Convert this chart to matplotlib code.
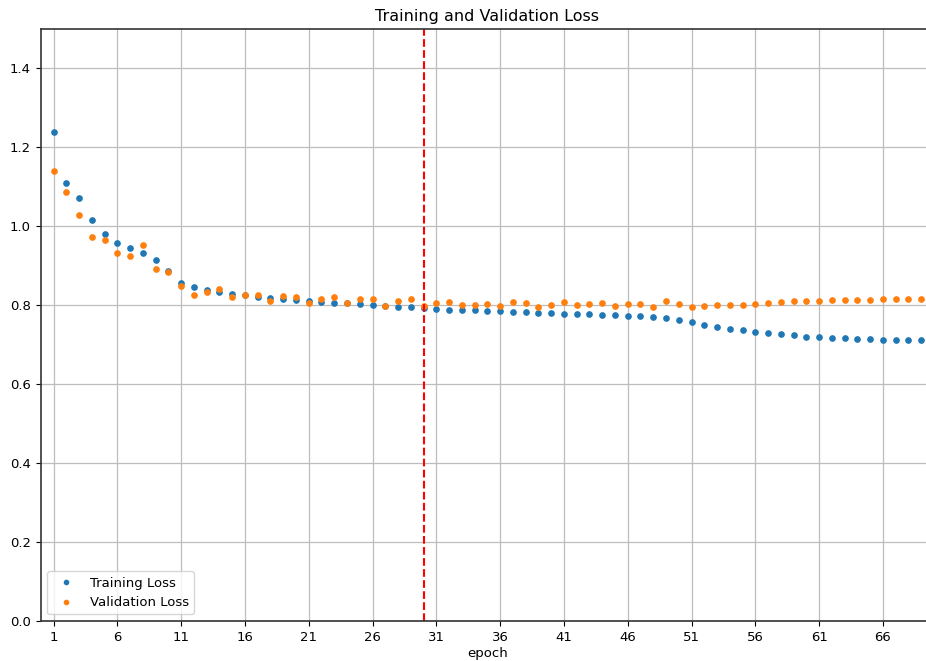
import matplotlib
matplotlib.use("Agg")
import matplotlib.pyplot as plt
import numpy as np

epochs = list(range(1, 70))

train_loss = [
    1.238, 1.110, 1.072, 1.015, 0.981, 0.959, 0.944, 0.932, 0.915, 0.888,
    0.856, 0.846, 0.839, 0.834, 0.829, 0.826, 0.822, 0.818, 0.816, 0.813,
    0.812, 0.808, 0.806, 0.805, 0.802, 0.800, 0.799, 0.796, 0.795, 0.794,
    0.791, 0.789, 0.788, 0.788, 0.785, 0.785, 0.782, 0.782, 0.780, 0.780,
    0.779, 0.778, 0.777, 0.775, 0.775, 0.774, 0.773, 0.770, 0.769, 0.763,
    0.757, 0.751, 0.746, 0.740, 0.737, 0.732, 0.730, 0.726, 0.724, 0.720,
    0.719, 0.718, 0.716, 0.715, 0.714, 0.713, 0.713, 0.712, 0.712,
]

val_loss = [
    1.140, 1.088, 1.030, 0.974, 0.965, 0.933, 0.924, 0.952, 0.891, 0.884,
    0.850, 0.827, 0.834, 0.842, 0.820, 0.826, 0.825, 0.812, 0.823, 0.822,
    0.806, 0.817, 0.820, 0.805, 0.817, 0.816, 0.799, 0.810, 0.815, 0.797,
    0.807, 0.809, 0.801, 0.801, 0.802, 0.798, 0.808, 0.806, 0.796, 0.801,
    0.808, 0.800, 0.803, 0.806, 0.798, 0.803, 0.804, 0.795, 0.810, 0.802,
    0.796, 0.798, 0.801, 0.801, 0.801, 0.804, 0.807, 0.809, 0.810, 0.812,
    0.812, 0.813, 0.813, 0.813, 0.814, 0.815, 0.815, 0.815, 0.815,
]

best_epoch = 30
x_ticks = list(range(1, 70, 5))
y_ticks = [0.0, 0.2, 0.4, 0.6, 0.8, 1.0, 1.2, 1.4]

fig = plt.figure(figsize=(9.26, 6.61), dpi=100)
ax = fig.add_axes([0.044, 0.0605, 0.9646, 0.8956])

ax.plot(epochs, train_loss, 'o', color='#1f77b4', markersize=3.8, label='Training Loss')
ax.plot(epochs, val_loss, 'o', color='#ff7f0e', markersize=3.8, label='Validation Loss')
ax.axvline(best_epoch, color='red', linestyle='--', linewidth=1.5)

ax.set_xlim(0, 70)
ax.set_ylim(0, 1.5)
ax.set_xticks(x_ticks)
ax.set_yticks(y_ticks)
ax.tick_params(labelsize=9.5)
ax.grid(True, color='#bdbdbd', linewidth=0.9)
ax.set_axisbelow(True)
for s in ax.spines.values():
    s.set_linewidth(1.2)
    s.set_color('#333333')

ax.set_title('Training and Validation Loss', fontsize=11.5)
ax.set_xlabel('epoch', fontsize=9.5, labelpad=2)
ax.legend(loc='lower left', fontsize=9.5, markerscale=0.8)

fig.savefig('out.png', dpi=100)
